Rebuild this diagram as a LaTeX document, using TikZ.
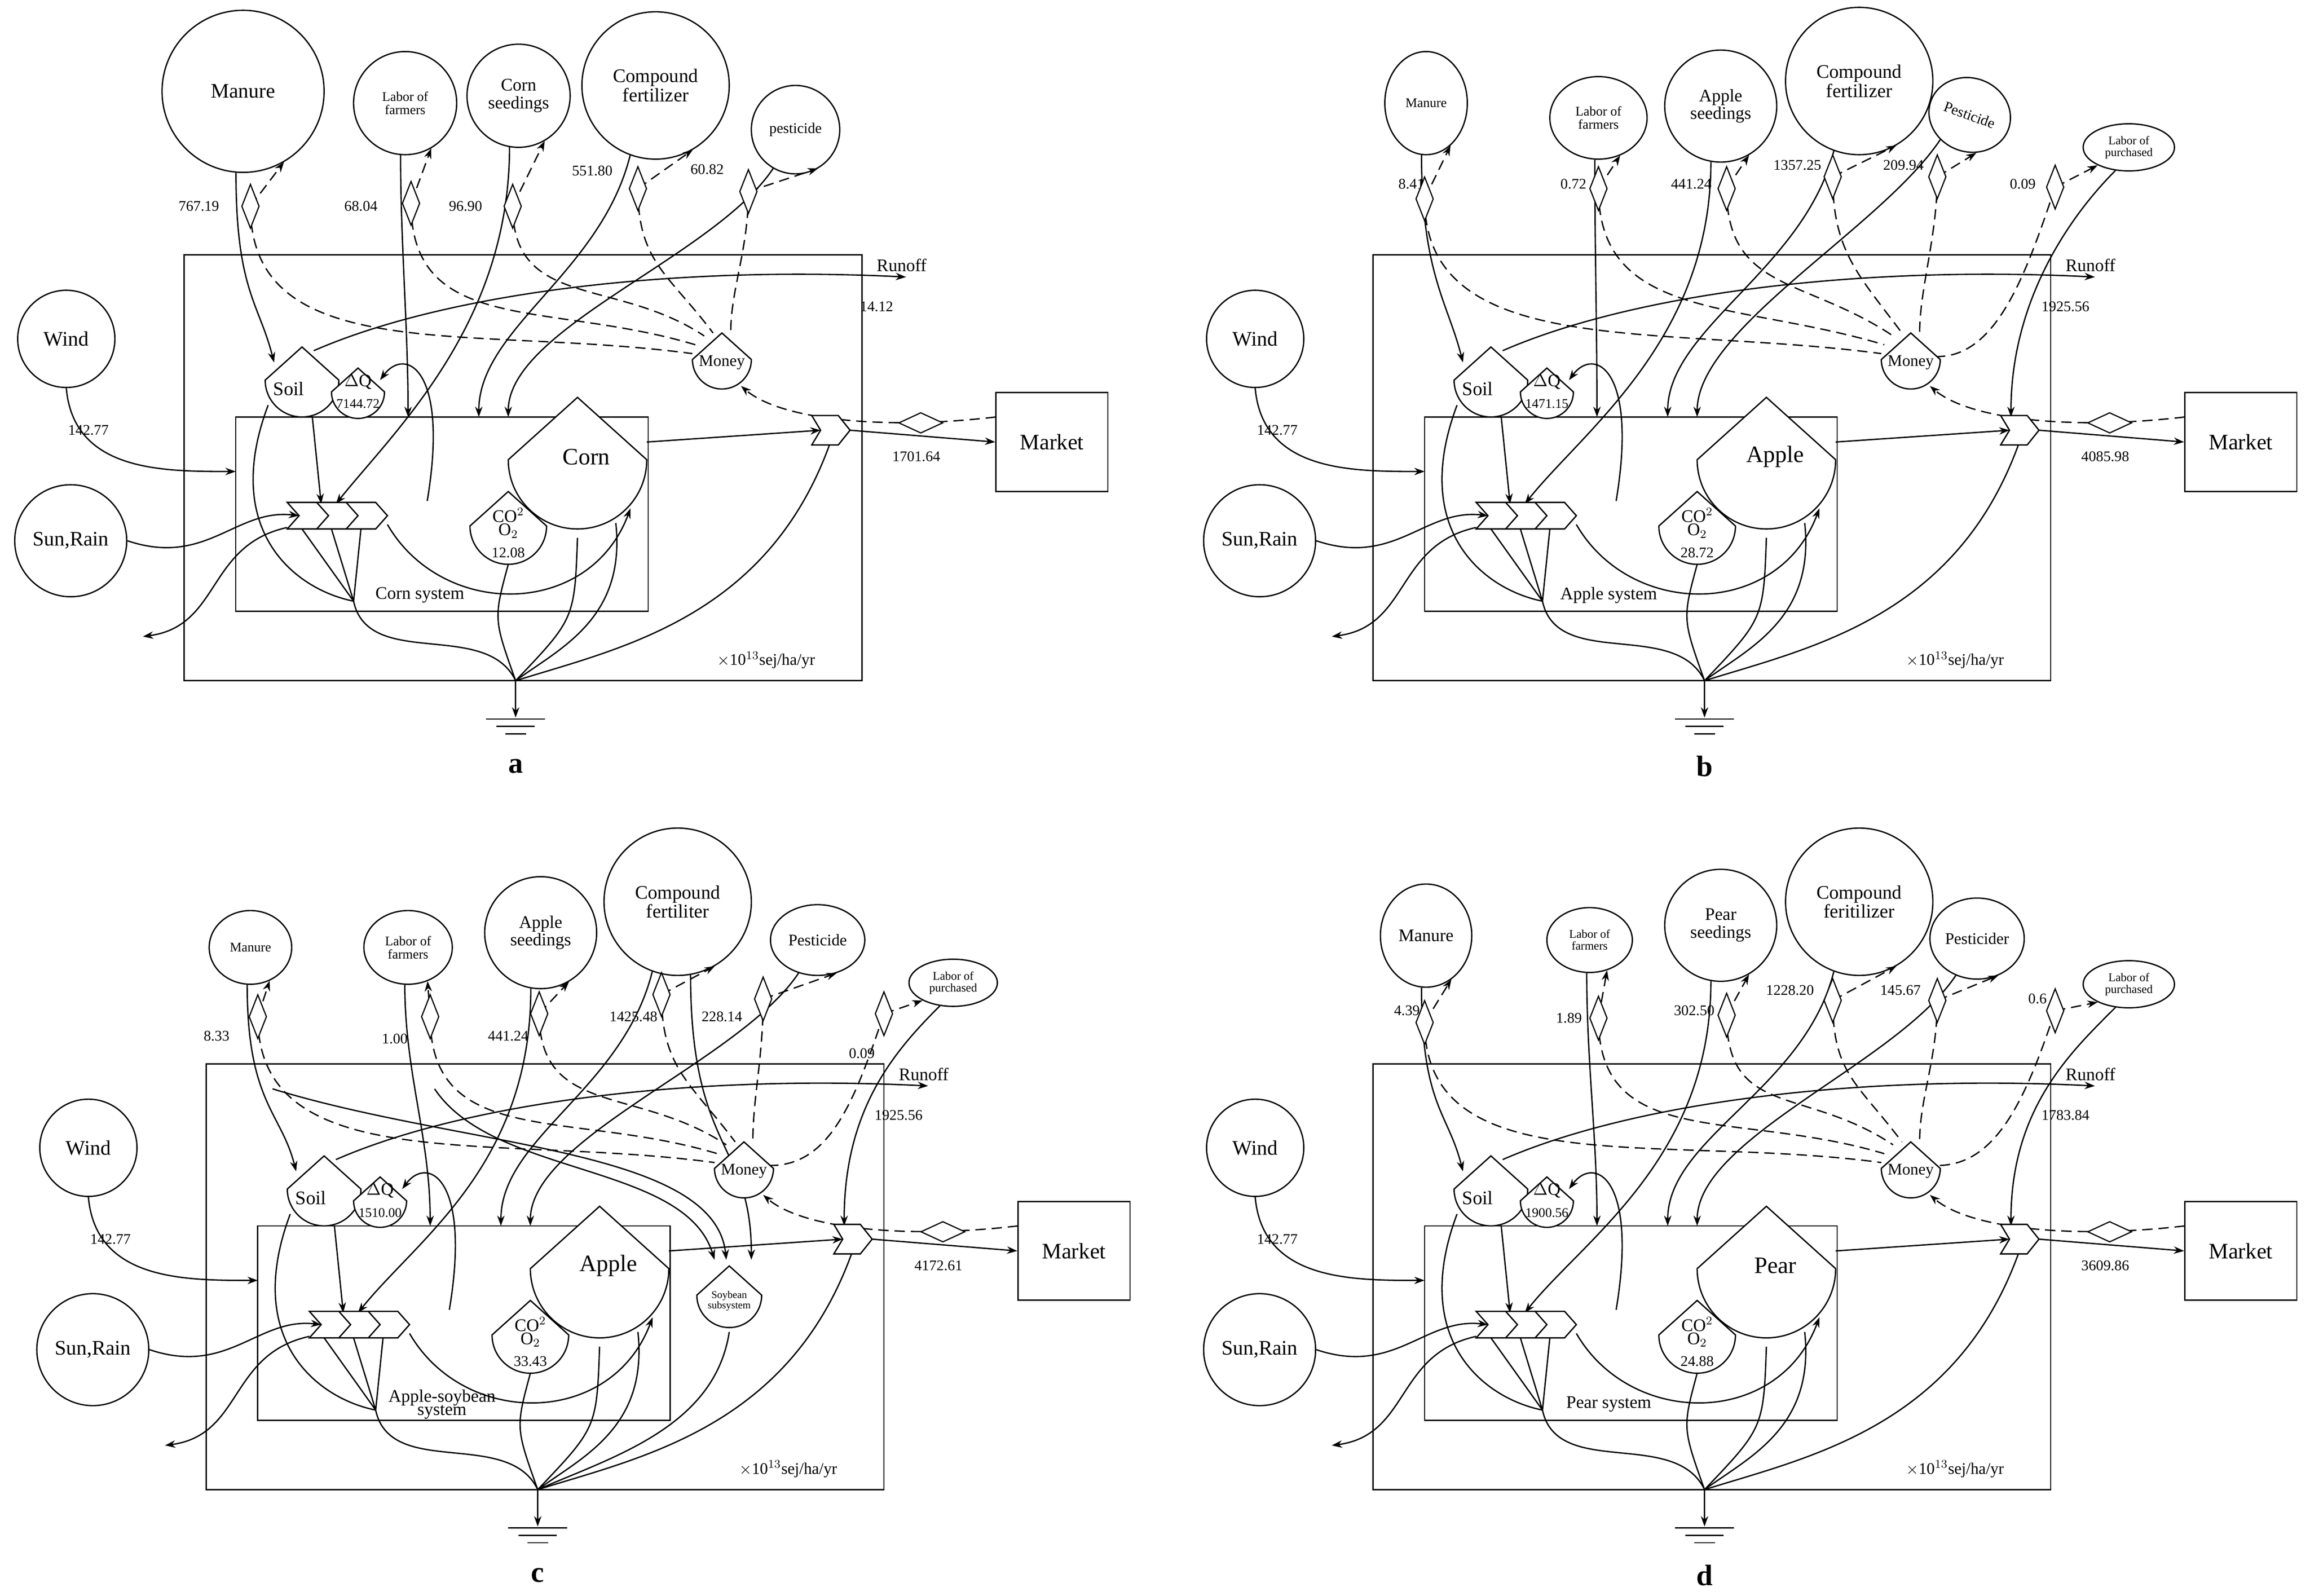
\documentclass[tikz,border=0pt]{standalone}
\usepackage{fontspec}
\setmainfont{Liberation Serif}
\usetikzlibrary{arrows.meta,shapes.geometric}
\tikzset{
 ln/.style={line width=0.9pt},
 arr/.style={-{Stealth[length=7pt,width=5pt]}},
 dsh/.style={dash pattern=on 7pt off 4pt},
 src/.style={ellipse,draw,line width=0.9pt,align=center,inner sep=0pt},
 dia/.style={diamond,draw,fill=white,line width=0.8pt,inner sep=0pt,minimum width=12pt,minimum height=30pt},
 hdia/.style={diamond,draw,fill=white,line width=0.8pt,inner sep=0pt,minimum width=30pt,minimum height=14pt},
 val/.style={font=\fontsize{10}{11}\selectfont},
}
\newcommand\fs[1]{\fontsize{#1}{#1}\selectfont}
\newcommand\tank[4]{\coordinate (#1) at (#2,#3);
 \draw[ln,fill=white] ({#2-#4},#3) -- (#2,{#3-0.9*#4}) -- ({#2+#4},#3) arc[start angle=0,end angle=180,radius=#4] -- cycle;}
\newcommand\inter[3]{\coordinate (#1) at (#2,#3);
 \draw[ln,fill=white] (#2,{#3-9}) -- ++(60,0) -- ++(8,9) -- ++(-8,9) -- ++(-60,0) -- ++(8,-9) -- cycle;
 \draw[ln] ({#2+20},{#3-9}) -- ++(8,9) -- ++(-8,9);
 \draw[ln] ({#2+40},{#3-9}) -- ++(8,9) -- ++(-8,9);}
\newcommand\outc[3]{\coordinate (#1) at (#2,#3);
 \draw[ln,fill=white] ({#2-14},{#3-10}) -- ++(18,0) -- ++(8,10) -- ++(-8,10) -- ++(-18,0) -- ++(6,-10) -- cycle;}
\newcommand\core[7]{
 \draw[ln] (125,173) rectangle (585,462);
 \draw[ln] (160,283) rectangle (440,415);
 \node[src,minimum size=66pt,font=\fs{14}] (\P wind) at (45,230) {Wind};
 \node[src,minimum size=76pt,font=\fs{14}] (\P sun) at (48,367) {Sun,Rain};
 \node[draw,ln,minimum width=76pt,minimum height=67pt,font=\fs{15}] (\P mk) at (714,300) {Market};
 \node[val] (\P wv) at (60,292) {142.77};
 \draw[ln,arr] (\P s1.-95) .. controls +(0,80) and +(-10,-40) .. (186,246);
 \draw[ln,arr] (\P s2.-95) .. controls +(0,60) and +(0,-60) .. (277,283);
 \draw[ln,arr] (\P s3.-100) .. controls +(0,120) and +(40,-50) .. (228,342);
 \draw[ln,arr] (\P s4.-110) .. controls +(-20,80) and +(0,-60) .. (325,283);
 \draw[ln,arr] (\P s5.-120) .. controls +(-40,60) and +(0,-60) .. (345,283);
 \foreach \i in {1,...,5}{\draw[ln,dsh,arr] (\P d\i.north) -- (\P s\i.-60);}
 \draw[ln,dsh] (\P d1.south) .. controls +(0,110) and +(-150,-20) .. (470,240);
 \draw[ln,dsh] (\P d2.south) .. controls +(0,90) and +(-100,-30) .. (472,234);
 \draw[ln,dsh] (\P d3.south) .. controls +(0,70) and +(-60,-40) .. (478,228);
 \draw[ln,dsh] (\P d4.south) .. controls +(0,50) and +(-30,-40) .. (484,226);
 \draw[ln,dsh] (\P d5.south) .. controls +(0,40) and +(0,-30) .. (496,226);
 \ifnum#7=1
 \draw[ln,arr] (\P s6.-120) .. controls +(-30,30) and +(0,-80) .. (558,283);
 \draw[ln,dsh,arr] (\P d6.north) -- (\P s6.-150);
 \draw[ln,dsh] (\P d6.south) .. controls +(-20,60) and +(40,0) .. (508,242);
 \fi
 \draw[ln,arr] (\P wind.south) .. controls (50,320) and (110,320) .. (160,320);
 \draw[ln,arr] (\P sun.east) .. controls (140,385) and (160,345) .. (203,350);
 \draw[ln,arr] (195,358) .. controls (140,370) and (150,425) .. (97,432);
 \draw[ln,arr] (213,238) .. controls (300,200) and (450,180) .. (615,188);
 \draw[ln,dsh,arr] (676,283) .. controls (600,292) and (530,285) .. (503,262);
 \draw[ln,arr] (212,283) -- (218,342);
 \draw[ln] (182,275) .. controls (150,360) and (200,400) .. (240,408);
 \draw[ln] (205,359) -- (240,408) (225,359) -- (240,408) (245,359) -- (240,408);
 \draw[ln] (240,408) .. controls (250,455) and (330,420) .. (350,462);
 \draw[ln] (345,383) .. controls (335,420) .. (350,462);
 \draw[ln] (392,365) .. controls (390,420) .. (350,462);
 \draw[ln] (418,355) .. controls (425,420) and (380,440) .. (350,462);
 \draw[ln] (563,302) .. controls (520,420) and (420,440) .. (350,462);
 \draw[ln,arr] (263,356) .. controls (300,420) and (400,420) .. (428,345);
 \draw[ln,arr] (290,340) .. controls (305,250) and (275,235) .. (258,258);
 \draw[ln,arr] (350,462) -- (350,487);
 \draw[ln] (330,488) -- (370,488) (337,493) -- (363,493) (343,498) -- (357,498);
 \tank{\P soil}{205}{258}{25}
 \tank{\P dq}{243}{266}{18}
 \tank{\P m}{490}{244}{20}
 \tank{\P pr}{392}{312}{47}
 \tank{\P co}{345}{357}{26}
 \inter{\P ch}{195}{350}
 \outc{\P oc}{565}{292}
 \draw[ln,arr] (439,300) -- (557,292);
 \draw[ln,arr] (577,292) -- (\P mk.west);
 \node[hdia] (\P dm) at (625,287) {};
 \foreach \i in {1,...,5}{\node[dia] at (\P d\i) {};}
 \ifnum#7=1 \node[dia] at (\P d6) {};\fi
 \node[font=\fs{13}] (\P soilt) at (196,264) {Soil};
 \node[font=\fs{12}] (\P dqt) at (243,259) {$\Delta$Q};
 \node[font=\fs{9}] (\P dqv) at (243,274) {#3};
 \node[font=\fs{11}] (\P mt) at (490,246) {Money};
 \node[font=\fs{16}] (\P prt) at (398,310) {#1};
 \node[font=\fs{12},align=center] (\P cot) at (345,355) {CO$^2$\\[-3pt]O$_2$};
 \node[font=\fs{10}] (\P cov) at (345,375) {#4};
 \node[font=\fs{12},align=center] (\P sys) at (285,404) {#2};
 \node[font=\fs{11}] (\P un) at (520,448) {$\times$10$^{13}$sej/ha/yr};
 \node[font=\fs{12}] (\P ro) at (612,180) {Runoff};
 \node[val] (\P rov) at (595,208) {#6};
 \node[val] (\P mkv) at (622,310) {#5};
}
\begin{document}
\begin{tikzpicture}[x=1pt,y=-1pt]
\useasboundingbox (0,0) rectangle (1568,1083);
\begin{scope}
\def\P{a}
\node[src,minimum size=110pt,font=\fs{14}] (\P s1) at (165,62) {Manure};
\node[src,minimum size=70pt,font=\fs{9}] (\P s2) at (275,70) {Labor of\\farmers};
\node[src,minimum size=70pt,font=\fs{12}] (\P s3) at (352,65) {Corn\\seedings};
\node[src,minimum size=100pt,font=\fs{13}] (\P s4) at (445,58) {Compound\\fertilizer};
\node[src,minimum size=60pt,font=\fs{10}] (\P s5) at (540,88) {pesticide};
\coordinate (\P d1) at (170,140); \coordinate (\P d2) at (279,138); \coordinate (\P d3) at (348,140);
\coordinate (\P d4) at (433,128); \coordinate (\P d5) at (508,130);
\node[val] at (135,140) {767.19}; \node[val] at (245,140) {68.04}; \node[val] at (316,140) {96.90};
\node[val] at (402,116) {551.80}; \node[val] at (480,115) {60.82};
\core{Corn}{Corn system}{7144.72}{12.08}{1701.64}{14.12}{0}
\node[font=\fs{20}\bfseries] (\P lab) at (350,520) {a};
\end{scope}
\begin{scope}[shift={(807,0)}]
\def\P{b}
\node[src,minimum width=56pt,minimum height=70pt,font=\fs{9}] (\P s1) at (161,70) {Manure};
\node[src,minimum width=66pt,minimum height=56pt,font=\fs{9}] (\P s2) at (278,80) {Labor of\\farmers};
\node[src,minimum size=76pt,font=\fs{12}] (\P s3) at (361,72) {Apple\\seedings};
\node[src,minimum size=100pt,font=\fs{13}] (\P s4) at (455,55) {Compound\\fertilizer};
\node[src,minimum width=56pt,minimum height=50pt,font=\fs{10},rotate=-20] (\P s5) at (530,78) {Pesticide};
\node[src,minimum width=62pt,minimum height=32pt,font=\fs{8}] (\P s6) at (638,100) {Labor of\\purchased};
\coordinate (\P d1) at (160,135); \coordinate (\P d2) at (278,128); \coordinate (\P d3) at (365,128);
\coordinate (\P d4) at (437,120); \coordinate (\P d5) at (508,120); \coordinate (\P d6) at (588,127);
\node[val] at (151,125) {8.41}; \node[val] at (261,125) {0.72}; \node[val] at (341,125) {441.24};
\node[val] at (413,112) {1357.25}; \node[val] at (485,112) {209.94}; \node[val] at (566,125) {0.09};
\core{Apple}{Apple system}{1471.15}{28.72}{4085.98}{1925.56}{1}
\node[font=\fs{20}\bfseries] (\P lab) at (350,520) {b};
\end{scope}
\begin{scope}[shift={(15,549)}]
\def\P{c}
\node[src,minimum width=56pt,minimum height=50pt,font=\fs{9}] (\P s1) at (155,94) {Manure};
\node[src,minimum width=60pt,minimum height=50pt,font=\fs{9}] (\P s2) at (262,94) {Labor of\\farmers};
\node[src,minimum size=76pt,font=\fs{12}] (\P s3) at (352,84) {Apple\\seedings};
\node[src,minimum size=100pt,font=\fs{13}] (\P s4) at (445,63) {Compound\\fertiliter};
\node[src,minimum width=64pt,minimum height=48pt,font=\fs{11}] (\P s5) at (540,89) {Pesticide};
\node[src,minimum width=60pt,minimum height=32pt,font=\fs{8}] (\P s6) at (632,118) {Labor of\\purchased};
\coordinate (\P d1) at (160,141); \coordinate (\P d2) at (277,141); \coordinate (\P d3) at (351,139);
\coordinate (\P d4) at (434,126); \coordinate (\P d5) at (503,129); \coordinate (\P d6) at (585,139);
\node[val] at (132,154) {8.33}; \node[val] at (253,156) {1.00}; \node[val] at (330,154) {441.24};
\node[val] at (415,141) {1425.48}; \node[val] at (475,141) {228.14}; \node[val] at (570,166) {0.09};
\draw[ln,arr] (170,190) .. controls (300,230) and (470,230) .. (478,306);
\draw[ln,arr] (280,190) .. controls (320,250) and (450,240) .. (470,306);
\draw[ln,arr] (\P s4.-80) .. controls +(0,120) and +(0,-80) .. (495,306);
\draw[ln] (480,355) .. controls (470,420) and (400,440) .. (350,462);
\core{Apple}{Apple-soybean\\[-3pt]system}{1510.00}{33.43}{4172.61}{1925.56}{1}
\tank{\P soy}{480}{330}{22}
\node[font=\fs{7},align=center] (\P soyt) at (480,334) {Soybean\\subsystem};
\node[font=\fs{20}\bfseries] (\P lab) at (350,520) {c};
\end{scope}
\begin{scope}[shift={(807,549)}]
\def\P{d}
\node[src,minimum width=62pt,minimum height=70pt,font=\fs{12}] (\P s1) at (161,86) {Manure};
\node[src,minimum width=58pt,minimum height=44pt,font=\fs{8}] (\P s2) at (272,89) {Labor of\\farmers};
\node[src,minimum size=76pt,font=\fs{12}] (\P s3) at (361,79) {Pear\\seedings};
\node[src,minimum size=100pt,font=\fs{13}] (\P s4) at (455,63) {Compound\\feritilizer};
\node[src,minimum width=64pt,minimum height=55pt,font=\fs{11}] (\P s5) at (535,88) {Pesticider};
\node[src,minimum width=62pt,minimum height=32pt,font=\fs{8}] (\P s6) at (638,119) {Labor of\\purchased};
\coordinate (\P d1) at (160,145); \coordinate (\P d2) at (278,142); \coordinate (\P d3) at (365,140);
\coordinate (\P d4) at (437,130); \coordinate (\P d5) at (508,130); \coordinate (\P d6) at (588,137);
\node[val] at (148,137) {4.39}; \node[val] at (258,142) {1.89}; \node[val] at (343,137) {302.50};
\node[val] at (408,123) {1228.20}; \node[val] at (483,123) {145.67}; \node[val] at (576,129) {0.6};
\core{Pear}{Pear system}{1900.56}{24.88}{3609.86}{1783.84}{1}
\node[font=\fs{20}\bfseries] (\P lab) at (350,520) {d};
\end{scope}
\end{tikzpicture}
\end{document}
